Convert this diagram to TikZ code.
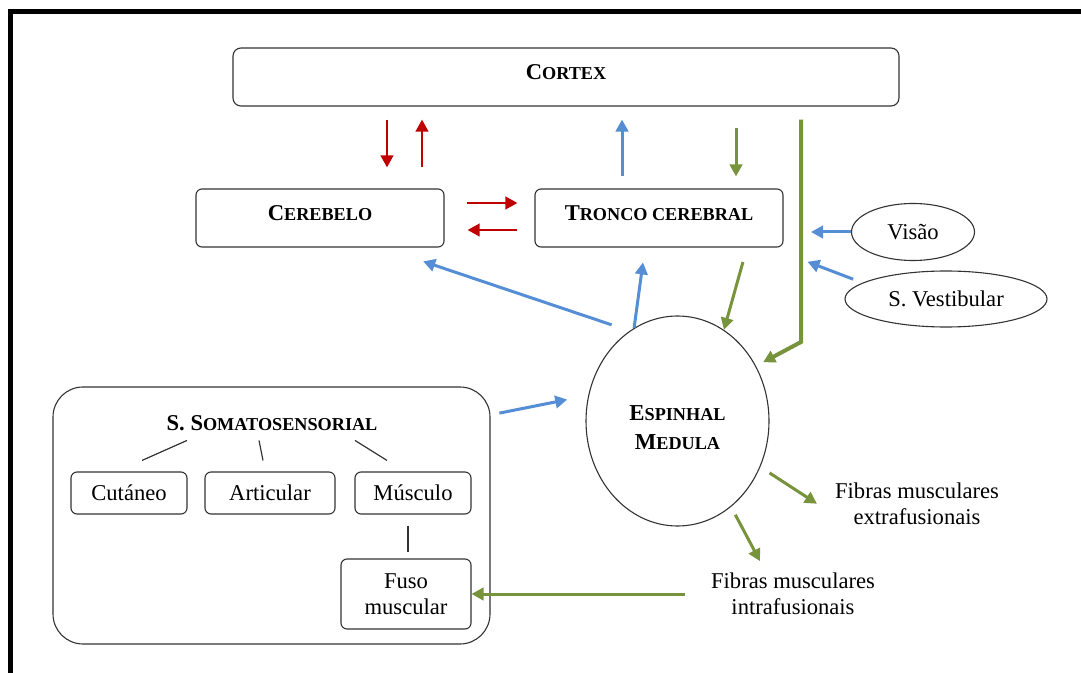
\documentclass[tikz,border=0pt]{standalone}
\usepackage{fontspec}
\setmainfont{Liberation Serif}
\usetikzlibrary{arrows.meta,shapes.geometric}
\definecolor{sigred}{HTML}{C00000}
\definecolor{sigblue}{HTML}{558ED5}
\definecolor{siggreen}{HTML}{77933C}
\newcommand\scb[2]{\textbf{#1{\fontsize{9.1}{11}\selectfont #2}}}
\tikzset{
  box/.style={rectangle,rounded corners=3pt,draw=black!80,line width=0.55pt,inner sep=1pt},
  oval/.style={ellipse,draw=black!80,line width=0.55pt,inner sep=0pt},
  plain/.style={inner sep=1pt,align=center},
  arr/.style={-{Triangle[length=6pt,width=6.2pt]},line width=1.5pt},
  tree/.style={draw=black!80,line width=0.6pt}
}
\begin{document}
\begin{tikzpicture}[x=0.5pt,y=-0.5pt,font=\fontsize{11.3}{13}\selectfont]
\useasboundingbox (0,0) rectangle (1081,673);
\draw[line width=2.2pt] (10.3,673) -- (10.3,11.7) -- (1081,11.7);

% upper row
\node[box,rounded corners=4pt,minimum width=333pt,minimum height=29pt,text depth=5pt] (cortex) at (566,77) {\scb{C}{ORTEX}};
\node[box,minimum width=124pt,minimum height=29pt,text depth=5pt] (cerebelo) at (320,218) {\scb{C}{EREBELO}};
\node[box,minimum width=124pt,minimum height=29pt,text depth=5pt] (tronco) at (659,218) {\scb{T}{RONCO CEREBRAL}};
\node[oval,minimum width=61.5pt,minimum height=28.5pt] (visao) at (913,232) {Visão};
\node[oval,minimum width=101pt,minimum height=28pt] (vest) at (946,299) {S. Vestibular};
\node[oval,minimum width=91.5pt,minimum height=105pt] (medula) at (677.5,421) {};
\node[plain,font=\fontsize{11.4}{14.5}\selectfont] (medtext) at (677.5,428) {\scb{E}{SPINHAL}\\\scb{M}{EDULA}};

% somatosensorial
\node[box,rounded corners=15pt,minimum width=218.5pt,minimum height=128.5pt] (soma) at (271.5,515.5) {};
\node[plain] (title) at (272,423) {\scb{S. S}{OMATOSENSORIAL}};
\node[box,minimum width=58pt,minimum height=21pt] (cut) at (129,493) {Cutáneo};
\node[box,minimum width=65pt,minimum height=21pt] (art) at (270,493) {Articular};
\node[box,minimum width=58pt,minimum height=21pt] (mus) at (413,493) {Músculo};
\node[box,minimum width=65pt,minimum height=35pt,align=center] (fuso) at (406,594) {Fuso\\muscular};
\draw[tree] (cut.north) ++(6.5pt,5.5pt) -- ++(22.5pt,10pt);
\draw[tree] (art.north) ++(-3.5pt,5.5pt) -- ++(-2pt,10pt);
\draw[tree] (mus.north) ++(-13pt,5.5pt) -- ++(-16pt,10pt);
\draw[tree,shorten <=5.5pt,shorten >=3pt] ([xshift=-2.5pt]mus.south) -- ([xshift=1pt]fuso.north);

% fibres
\node[plain] (extra) at (917,504) {Fibras musculares\\extrafusionais};
\node[plain] (intra) at (793,594) {Fibras musculares\\intrafusionais};

% cerebelo / cortex / tronco
\draw[arr,sigred,line width=1.35pt,shorten <=6.5pt,shorten >=10.5pt] ([xshift=-89.5pt]cortex.south) -- ([xshift=33.5pt]cerebelo.north);
\draw[arr,sigred,line width=1.35pt,shorten <=10.5pt,shorten >=6.5pt] ([xshift=51pt]cerebelo.north) -- ([xshift=-72pt]cortex.south);
\draw[arr,sigred,line width=1.35pt,shorten <=11pt,shorten >=8.5pt] ([yshift=7.5pt]cerebelo.east) -- ([yshift=7.5pt]tronco.west);
\draw[arr,sigred,line width=1.35pt,shorten <=8.5pt,shorten >=11.5pt] ([yshift=-6pt]tronco.west) -- ([yshift=-6pt]cerebelo.east);
\draw[arr,sigblue,shorten <=6pt,shorten >=6.5pt] ([xshift=-18.5pt]tronco.north) -- ([xshift=28pt]cortex.south);
\draw[arr,siggreen,shorten <=10.5pt,shorten >=6pt] ([xshift=85pt]cortex.south) -- ([xshift=38.5pt]tronco.north);

% descending path
\coordinate (bend) at (801,342);
\draw[arr,siggreen,line width=2pt,shorten <=6.5pt,shorten >=4pt] ([xshift=117.5pt]cortex.south) -- (bend) -- (medula.35);
\draw[arr,sigblue,shorten >=5pt] (visao.west) -- (visao.west -| bend);
\draw[arr,sigblue,shorten <=5pt] (vest.169) -- ++(-27.5pt,10.5pt);

% medula
\draw[arr,sigblue,shorten >=7.5pt] (medula.115) -- ([xshift=-7pt]tronco.south);
\draw[arr,siggreen,shorten <=7.5pt] ([xshift=44pt]tronco.south) -- (medula.63);
\draw[arr,sigblue,shorten <=9.5pt,shorten >=21.7pt] (medula.118) -- ([xshift=31pt]cerebelo.south);
\draw[arr,sigblue,shorten <=4.5pt,shorten >=10.7pt] ([yshift=50.3pt]soma.east) -- (medula.164);
\draw[arr,siggreen,shorten <=5.5pt,shorten >=9.4pt] (medula.-29) -- ([yshift=-5pt]extra.west);
\draw[arr,siggreen,shorten <=4.5pt,shorten >=5.4pt] (medula.-58) -- ([xshift=-14pt]intra.north);
\draw[arr,siggreen,shorten <=12pt] (intra.west) -- (fuso.east);
\end{tikzpicture}
\end{document}
